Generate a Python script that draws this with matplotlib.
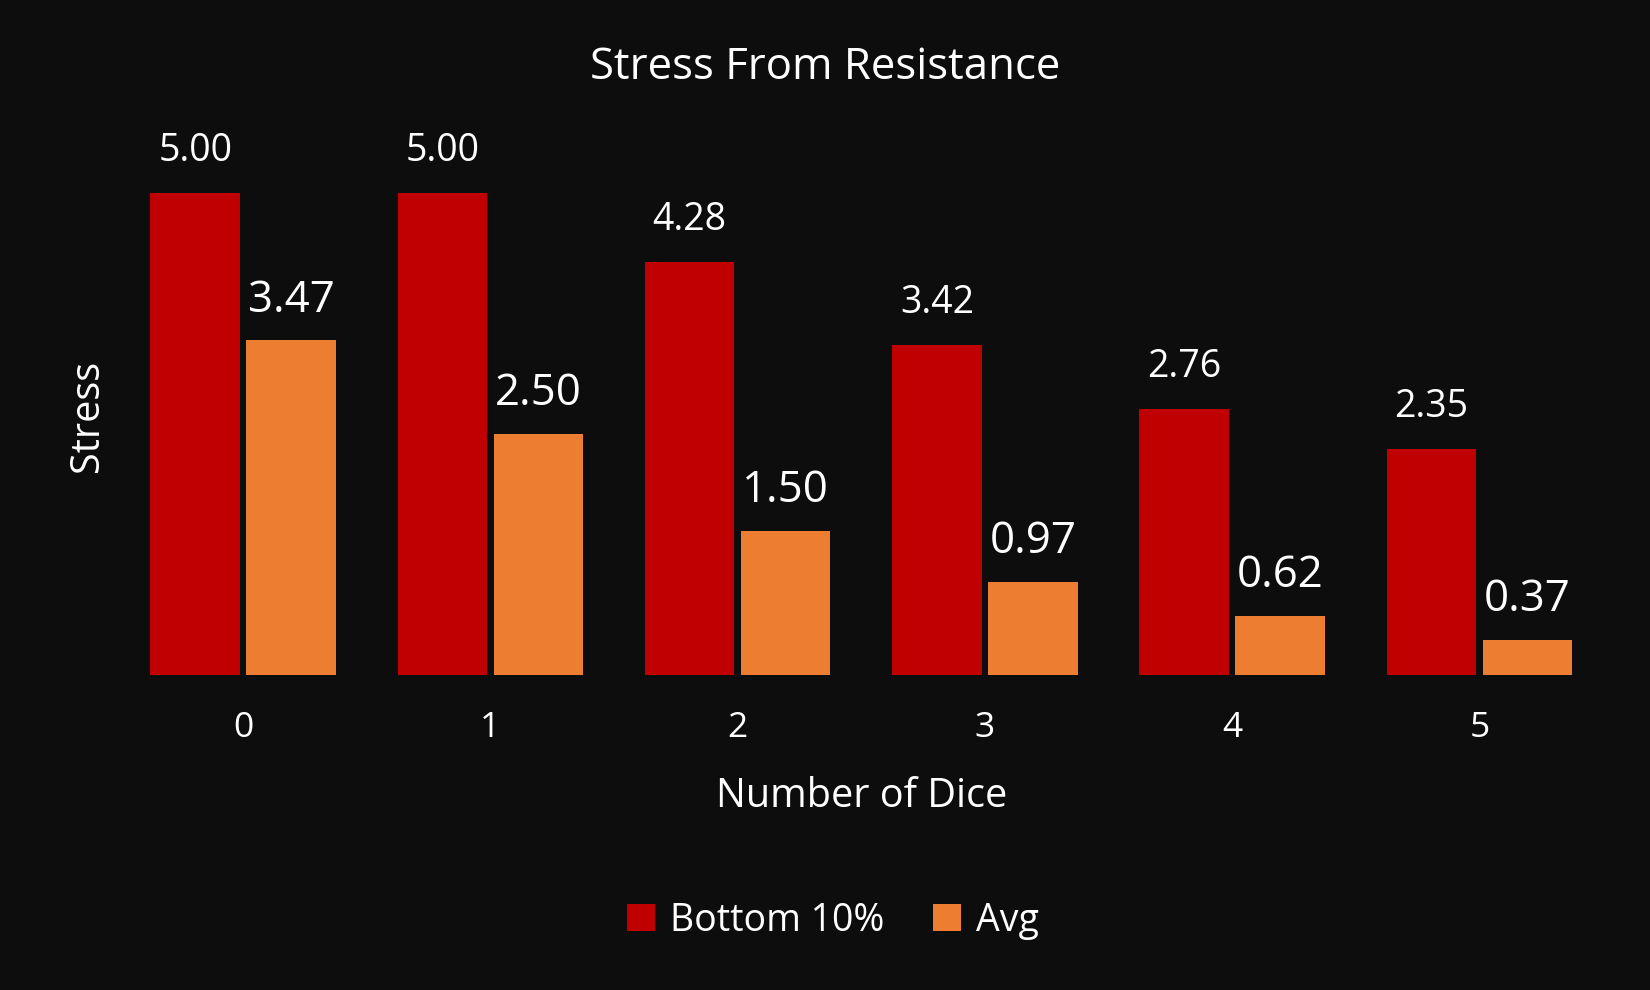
import matplotlib
matplotlib.use("Agg")
import matplotlib.pyplot as plt
import numpy as np

plt.rcParams['font.family'] = ['Open Sans', 'DejaVu Sans']

dice = ['0', '1', '2', '3', '4', '5']
bottom10 = [5.00, 5.00, 4.28, 3.42, 2.76, 2.35]
avg = [3.47, 2.50, 1.50, 0.97, 0.62, 0.37]

bg = '#0d0d0d'
red = '#c00000'
orange = '#ed7d31'

fig = plt.figure(figsize=(11, 6.6), dpi=150, facecolor=bg)
ax = fig.add_axes([0.0724, 0.3177, 0.8992, 0.5853])
ax.set_facecolor(bg)

x = np.arange(len(dice))
w = 0.362
gap = 0.026
r_bars = ax.bar(x - (w + gap) / 2, bottom10, w, color=red, label='Bottom 10%')
o_bars = ax.bar(x + (w + gap) / 2, avg, w, color=orange, label='Avg')

for b, v in zip(r_bars, bottom10):
    ax.annotate(f'{v:.2f}', (b.get_x() + b.get_width() / 2, v), xytext=(0, 11),
                textcoords='offset points', ha='center', va='bottom',
                color='white', fontsize=18)
for b, v in zip(o_bars, avg):
    ax.annotate(f'{v:.2f}', (b.get_x() + b.get_width() / 2, v), xytext=(0, 8.5),
                textcoords='offset points', ha='center', va='bottom',
                color='white', fontsize=21)

ax.set_xlim(-0.5, 5.5)
ax.set_ylim(0, 6)
ax.set_xticks(x)
ax.set_xticklabels(dice, color='white', fontsize=17)
ax.tick_params(axis='x', length=0, pad=17)
ax.set_yticks([])
for s in ax.spines.values():
    s.set_visible(False)

fig.text(0.5, 0.932, 'Stress From Resistance', ha='center', va='center',
         color='white', fontsize=21)
fig.text(0.522, 0.1955, 'Number of Dice', ha='center', va='center',
         color='white', fontsize=19)
fig.text(0.053, 0.58, 'Stress', ha='center', va='center', rotation=90,
         color='white', fontsize=19)

leg = fig.legend(loc='center', bbox_to_anchor=(0.505, 0.07), ncol=2,
                 frameon=False, fontsize=18, labelcolor='white',
                 handlelength=0.75, handleheight=0.75, handletextpad=0.4,
                 columnspacing=1.3)

fig.savefig('out.png', dpi=150, facecolor=bg)
